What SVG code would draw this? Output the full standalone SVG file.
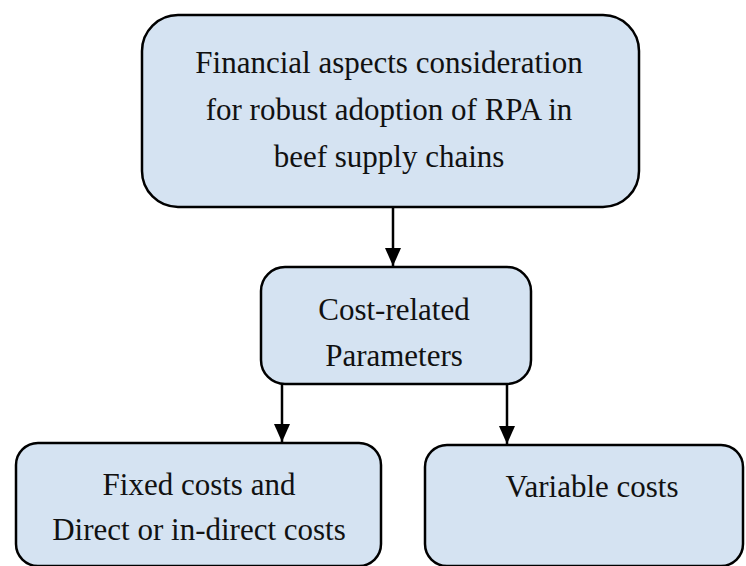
<svg xmlns="http://www.w3.org/2000/svg" width="746" height="566" viewBox="0 0 746 566">
<defs>
<style>
.box{fill:#D5E3F2;stroke:#000;stroke-width:2.5}
.t{font-family:"Liberation Serif","DejaVu Serif",serif;font-size:31px;fill:#111;text-anchor:middle}
.c{stroke:#000;stroke-width:2.5;fill:none}
</style>
<marker id="ah" markerWidth="18" markerHeight="16" refX="18" refY="8" orient="auto" markerUnits="userSpaceOnUse">
<path d="M0,0 L18,8 L0,16 Z" fill="#000"/>
</marker>
</defs>
<rect width="746" height="566" fill="#fff"/>
<g id="connectors">
<line class="c" x1="393" y1="207" x2="393" y2="266" marker-end="url(#ah)"/>
<line class="c" x1="282" y1="384" x2="282" y2="442" marker-end="url(#ah)"/>
<line class="c" x1="507" y1="384" x2="507" y2="444" marker-end="url(#ah)"/>
</g>
<g id="n-financial">
<rect class="box" x="142" y="15" width="497" height="192" rx="36" ry="36"/>
<text class="t" x="389" y="73">Financial aspects consideration</text>
<text class="t" x="389" y="120">for robust adoption of RPA in</text>
<text class="t" x="389" y="167">beef supply chains</text>
</g>
<g id="n-cost">
<rect class="box" x="261" y="267" width="270" height="117" rx="24" ry="24"/>
<text class="t" x="394" y="320">Cost-related</text>
<text class="t" x="394" y="366">Parameters</text>
</g>
<g id="n-fixed">
<rect class="box" x="16" y="443" width="365" height="123" rx="22" ry="22"/>
<text class="t" x="199" y="495">Fixed costs and</text>
<text class="t" x="199" y="540">Direct or in-direct costs</text>
</g>
<g id="n-variable">
<rect class="box" x="425" y="445" width="318" height="121" rx="22" ry="22"/>
<text class="t" x="592" y="497">Variable costs</text>
</g>
</svg>
